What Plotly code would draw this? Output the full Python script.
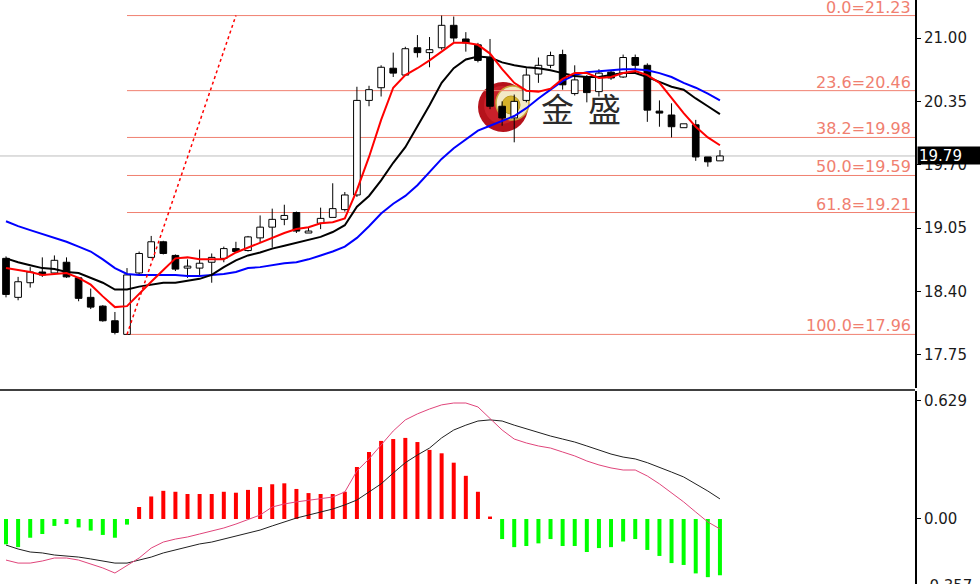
import plotly.graph_objects as go

# ---------------- data ----------------
opens  = [18.74,18.34,18.49,18.60,18.59,18.70,18.54,18.34,18.25,18.10,
          17.96,18.59,18.75,18.91,18.77,18.64,18.64,18.70,18.74,18.84,
          18.82,18.95,19.06,19.14,19.21,19.00,19.10,19.16,19.24,19.39,
          20.36,20.49,20.69,20.62,20.90,20.85,20.90,21.13,20.99,20.93,
          20.80,20.30,20.18,20.36,20.63,20.72,20.83,20.43,20.60,20.45,
          20.65,20.60,20.80,20.72,20.25,20.21,20.08,20.11,19.78,19.74]
highs  = [18.76,18.55,18.65,18.75,18.77,18.75,18.55,18.43,18.26,18.19,
          18.64,18.81,18.97,18.92,18.78,18.73,18.83,18.79,18.86,18.91,
          18.97,19.18,19.25,19.29,19.22,19.06,19.26,19.51,19.42,20.50,
          20.51,20.72,20.85,20.91,21.03,21.01,21.23,21.22,21.06,20.95,
          20.99,20.35,20.42,20.69,20.80,20.86,20.88,20.72,20.62,20.68,
          20.67,20.83,20.83,20.74,20.36,20.33,20.12,20.16,19.78,19.85]
lows   = [18.34,18.31,18.44,18.55,18.57,18.54,18.30,18.22,18.09,17.96,
          17.96,18.57,18.74,18.78,18.61,18.54,18.55,18.49,18.70,18.80,
          18.81,18.90,18.85,19.08,19.00,19.00,19.04,19.16,19.22,19.37,
          20.30,20.40,20.60,20.61,20.80,20.70,20.88,20.96,20.86,20.75,
          20.27,20.10,19.93,20.34,20.54,20.69,20.47,20.41,20.34,20.40,
          20.57,20.59,20.64,20.14,20.09,19.98,20.08,19.74,19.68,19.74]
closes = [18.37,18.50,18.60,18.57,18.72,18.55,18.33,18.24,18.10,17.98,
          18.57,18.79,18.91,18.79,18.63,18.66,18.69,18.75,18.84,18.81,
          18.96,19.06,19.14,19.18,19.02,19.02,19.15,19.25,19.39,20.36,
          20.47,20.70,20.64,20.89,20.85,20.88,21.13,21.00,20.95,20.77,
          20.30,20.18,20.35,20.62,20.72,20.82,20.52,20.57,20.44,20.64,
          20.59,20.80,20.72,20.26,20.23,20.09,20.12,19.78,19.73,19.79]

ma_red   = [18.64,18.62,18.60,18.57,18.58,18.59,18.54,18.47,18.35,18.24,
            18.25,18.38,18.50,18.62,18.74,18.75,18.73,18.73,18.73,18.80,
            18.85,18.90,18.95,19.00,19.04,19.06,19.10,19.11,19.15,19.44,
            19.78,20.16,20.49,20.62,20.69,20.77,20.86,20.95,20.95,20.93,
            20.84,20.68,20.54,20.46,20.45,20.48,20.58,20.64,20.64,20.59,
            20.60,20.64,20.66,20.62,20.54,20.38,20.23,20.09,19.98,19.90]
ma_black = [18.74,18.70,18.67,18.64,18.63,18.60,18.59,18.54,18.49,18.42,
            18.42,18.45,18.47,18.49,18.49,18.51,18.53,18.57,18.65,18.72,
            18.77,18.80,18.84,18.87,18.90,18.93,18.96,19.01,19.08,19.27,
            19.38,19.54,19.72,19.88,20.09,20.31,20.54,20.69,20.78,20.81,
            20.80,20.75,20.72,20.70,20.69,20.67,20.64,20.61,20.60,20.60,
            20.62,20.64,20.64,20.60,20.55,20.50,20.47,20.38,20.30,20.22]
ma_blue  = [19.12,19.07,19.03,18.99,18.95,18.91,18.86,18.81,18.73,18.64,
            18.58,18.57,18.57,18.57,18.57,18.56,18.56,18.57,18.58,18.60,
            18.64,18.65,18.67,18.69,18.70,18.73,18.77,18.81,18.86,18.95,
            19.07,19.20,19.30,19.38,19.49,19.62,19.76,19.87,19.96,20.05,
            20.10,20.15,20.20,20.28,20.38,20.47,20.56,20.62,20.65,20.66,
            20.67,20.68,20.68,20.67,20.64,20.60,20.54,20.49,20.43,20.36]

macd_hist = [-0.135,-0.150,-0.100,-0.080,-0.037,-0.027,-0.045,-0.062,-0.085,-0.100,
             -0.030,0.064,0.120,0.150,0.145,0.133,0.133,0.133,0.145,0.140,
             0.155,0.170,0.185,0.190,0.160,0.138,0.133,0.133,0.145,0.277,
             0.357,0.416,0.426,0.432,0.410,0.368,0.350,0.300,0.230,0.145,
             0.013,-0.107,-0.150,-0.144,-0.130,-0.107,-0.144,-0.144,-0.176,-0.155,
             -0.150,-0.120,-0.107,-0.165,-0.197,-0.235,-0.245,-0.290,-0.310,-0.300]
macd_black = [-0.139,-0.160,-0.176,-0.181,-0.192,-0.197,-0.203,-0.213,-0.224,-0.235,
              -0.235,-0.219,-0.203,-0.181,-0.165,-0.149,-0.133,-0.123,-0.107,-0.091,
              -0.075,-0.059,-0.037,-0.016,0.005,0.021,0.037,0.053,0.075,0.101,
              0.144,0.187,0.245,0.300,0.341,0.378,0.432,0.474,0.500,0.522,
              0.528,0.522,0.500,0.480,0.458,0.442,0.426,0.410,0.389,0.368,
              0.346,0.330,0.320,0.300,0.277,0.250,0.224,0.187,0.149,0.107]
macd_pink = [-0.219,-0.235,-0.235,-0.224,-0.208,-0.208,-0.219,-0.240,-0.261,-0.288,
             -0.250,-0.208,-0.155,-0.123,-0.107,-0.096,-0.080,-0.064,-0.048,-0.027,
             -0.005,0.021,0.064,0.080,0.091,0.101,0.107,0.117,0.144,0.256,
             0.320,0.394,0.469,0.528,0.560,0.586,0.608,0.618,0.618,0.597,
             0.538,0.474,0.426,0.405,0.389,0.378,0.357,0.336,0.309,0.288,
             0.272,0.261,0.261,0.229,0.187,0.139,0.091,0.037,-0.016,-0.053]

fib_levels = ["0.0", "23.6", "38.2", "50.0", "61.8", "100.0"]
fib_prices = [21.23, 20.46, 19.98, 19.59, 19.21, 17.96]
fib_anchor_idx = [10, 19]
fib_anchor_price = [17.96, 21.23]
last_price = 19.79

price_ticks = [21.00, 20.35, 19.70, 19.05, 18.40, 17.75]
macd_ticks = [0.629, 0.00]
macd_tick_text = ["0.629", "0.00"]
macd_low_label = -0.357

# ---------------- geometry ----------------
W, H = 980, 584
PLOT_W = 915
n = len(opens)
idx = list(range(n))
XR = [-0.496, 75.12]
PRICE_RANGE = [17.4103, 21.3897]
MACD_RANGE = [-0.3465, 0.682]

FIB_COLOR = "#F08070"
FONT = "DejaVu Sans"

fig = go.Figure()

# wicks (split so they never cross the body)
wx, wy = [], []
for i in idx:
    top = max(opens[i], closes[i]); bot = min(opens[i], closes[i])
    if highs[i] > top:
        wx += [i, i, None]; wy += [top, highs[i], None]
    if lows[i] < bot:
        wx += [i, i, None]; wy += [lows[i], bot, None]
fig.add_trace(go.Scatter(x=wx, y=wy, mode="lines", line=dict(color="black", width=1),
                         hoverinfo="skip", showlegend=False, xaxis="x", yaxis="y"))

# bodies
base = [min(o, c) for o, c in zip(opens, closes)]
height = [max(abs(c - o), 0.012) for o, c in zip(opens, closes)]
colors = ["white" if c >= o else "black" for o, c in zip(opens, closes)]
fig.add_trace(go.Bar(x=idx, y=height, base=base, width=0.55,
                     marker=dict(color=colors, line=dict(color="black", width=1)),
                     showlegend=False, xaxis="x", yaxis="y"))

# moving averages
fig.add_trace(go.Scatter(x=idx, y=ma_blue, mode="lines", line=dict(color="#0000FF", width=2),
                         showlegend=False, xaxis="x", yaxis="y"))
fig.add_trace(go.Scatter(x=idx, y=ma_black, mode="lines", line=dict(color="black", width=2),
                         showlegend=False, xaxis="x", yaxis="y"))
fig.add_trace(go.Scatter(x=idx, y=ma_red, mode="lines", line=dict(color="#FF0000", width=2),
                         showlegend=False, xaxis="x", yaxis="y"))

# fibonacci trend line (dotted)
fig.add_trace(go.Scatter(x=fib_anchor_idx, y=fib_anchor_price, mode="lines",
                         line=dict(color="#FF0000", width=1.5, dash="dot"),
                         showlegend=False, xaxis="x", yaxis="y"))

# MACD
hcol = ["#FF0000" if v >= 0 else "#00FF00" for v in macd_hist]
fig.add_trace(go.Bar(x=idx, y=macd_hist, width=0.33, marker=dict(color=hcol, line=dict(width=0)),
                     showlegend=False, xaxis="x2", yaxis="y2"))
fig.add_trace(go.Scatter(x=idx, y=macd_black, mode="lines", line=dict(color="#202020", width=1),
                         showlegend=False, xaxis="x2", yaxis="y2"))
fig.add_trace(go.Scatter(x=idx, y=macd_pink, mode="lines", line=dict(color="#E0457B", width=1),
                         showlegend=False, xaxis="x2", yaxis="y2"))

shapes = []
annotations = []

# fib lines + labels
for lvl, p in zip(fib_levels, fib_prices):
    shapes.append(dict(type="line", xref="x", yref="y", x0=fib_anchor_idx[0], x1=XR[1],
                       y0=p, y1=p, line=dict(color=FIB_COLOR, width=1), layer="below"))
    annotations.append(dict(xref="paper", yref="y", x=1, y=p, xanchor="right", yanchor="bottom",
                            xshift=-3, yshift=-2, borderpad=0, showarrow=False, text=f"{lvl}={p:.2f}",
                            font=dict(family=FONT, size=16, color=FIB_COLOR)))

# current price line
shapes.append(dict(type="line", xref="paper", yref="y", x0=0, x1=1, y0=last_price, y1=last_price,
                   line=dict(color="#BDBDBD", width=1), layer="below"))

# panel separator
sep_y = 1 - 390 / H
shapes.append(dict(type="line", xref="paper", yref="paper", x0=0, x1=1, y0=sep_y, y1=sep_y,
                   line=dict(color="#404040", width=2)))

# watermark logo
def px(xp, yp):
    return xp / PLOT_W, 1 - yp / H
def circ(x0, y0, x1, y1, fill, line_col=None, lw=0):
    a = px(x0, y1); b = px(x1, y0)
    shapes.append(dict(type="circle", xref="paper", yref="paper", x0=a[0], y0=a[1], x1=b[0], y1=b[1],
                       fillcolor=fill, line=dict(color=line_col or fill, width=lw), layer="below"))
circ(478, 82, 528, 132, "#B5121B")
circ(484, 86, 520, 124, "#C8202A")
circ(496, 86, 529, 120, "#F3E9C6", "#C9A43A", 1.5)
circ(502, 96, 520, 114, "#D6B22A", "#B8961E", 1)

for ch, cx in (("金", 557), ("盛", 604)):
    annotations.append(dict(xref="paper", yref="paper", x=cx / PLOT_W, y=1 - 108 / H,
                            xanchor="center", yanchor="middle", showarrow=False, text=ch,
                            font=dict(family="Noto Sans CJK SC", size=33, color="#2B2B2B")))

# last price box
annotations.append(dict(xref="paper", yref="y", x=1, y=last_price, xanchor="left", yanchor="middle",
                        xshift=2, showarrow=False, text=f"{last_price:.2f}", bgcolor="black",
                        width=61, height=15, align="left",
                        font=dict(family=FONT, size=15, color="white")))
# bottom macd label (sits just below the visible range, partly cut like the source)
low_px = (MACD_RANGE[0] - macd_low_label) / (MACD_RANGE[1] - MACD_RANGE[0]) * (H - 391)
annotations.append(dict(xref="paper", yref="y2", x=1, y=MACD_RANGE[0], xanchor="left", yanchor="middle",
                        xshift=7, yshift=-low_px, showarrow=False, text=f"{macd_low_label:.3f}",
                        font=dict(family=FONT, size=15, color="#1a1a1a")))

fig.update_layout(
    width=W, height=H, margin=dict(l=0, r=W - PLOT_W, t=0, b=0, autoexpand=False),
    paper_bgcolor="white", plot_bgcolor="white", barmode="overlay", showlegend=False,
    xaxis=dict(domain=[0, 1], range=XR, visible=False, anchor="y"),
    xaxis2=dict(domain=[0, 1], range=XR, visible=False, anchor="y2", matches="x"),
    yaxis=dict(domain=[1 - 388 / H, 1], range=PRICE_RANGE, side="right", anchor="x",
               showgrid=False, zeroline=False, showline=True, linecolor="black", linewidth=2,
               ticks="outside", ticklen=4, tickcolor="black",
               tickvals=price_ticks, ticktext=[f"{v:.2f}" for v in price_ticks],
               tickfont=dict(family=FONT, size=15, color="#1a1a1a")),
    yaxis2=dict(domain=[0, 1 - 391 / H], range=MACD_RANGE, side="right", anchor="x2",
                showgrid=False, zeroline=False, showline=True, linecolor="black", linewidth=2,
                ticks="outside", ticklen=4, tickcolor="black",
                tickvals=macd_ticks, ticktext=macd_tick_text,
                tickfont=dict(family=FONT, size=15, color="#1a1a1a")),
    shapes=shapes, annotations=annotations,
)

fig.write_html("out.html", config={"displayModeBar": False},
               post_script="document.body.style.margin='0';document.body.style.overflow='hidden';")
